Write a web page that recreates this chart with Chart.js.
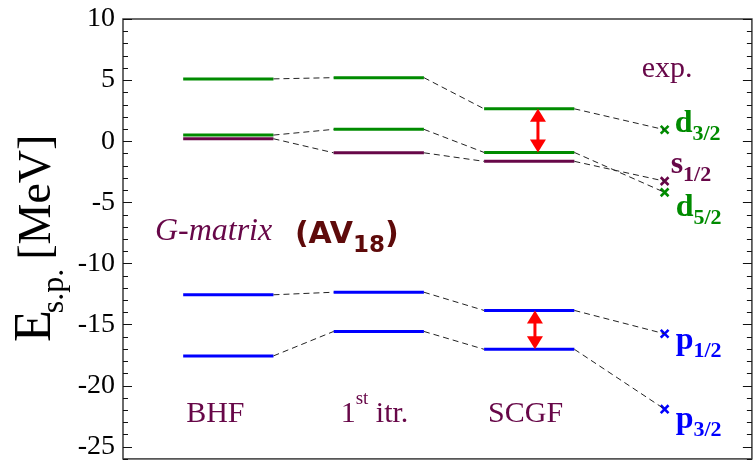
<!DOCTYPE html>
<html>
<head>
<meta charset="utf-8">
<script src="https://cdn.jsdelivr.net/npm/chart.js@4/dist/chart.umd.min.js"></script>
<style>
  html, body { margin: 0; padding: 0; overflow: hidden; background: #fff; }
  #wrap { width: 760px; height: 467px; }
</style>
</head>
<body>
<div id="wrap"><canvas id="c" width="760" height="467"></canvas></div>
<script>
// Single-particle energies (MeV) of the levels, one entry per orbit
const orbits      = ['d_{3/2}', 'd_{5/2}', 's_{1/2}', 'p_{1/2}', 'p_{3/2}'];
const bhf         = [5.10, 0.50, 0.20, -12.57, -17.57];
const firstItr    = [5.20, 0.97, -0.95, -12.36, -15.57];
const scgf        = [2.65, -0.92, -1.65, -13.85, -17.03];
const experiment  = [0.94, -4.19, -3.27, -15.76, -21.93];
const methods     = ['BHF', '1^{st} itr.', 'SCGF'];
const yTicks      = [10, 5, 0, -5, -10, -15, -20, -25];
// spin-orbit partners marked with a double arrow (indices into the orbit arrays)
const splitPairs  = [[0, 1], [3, 4]];

// ---- styling / placement ----
const GREEN = '#008b00', MAROON = '#670748', BLUE = '#0000ff', RED = '#ff0000';
const orbitColor = [GREEN, GREEN, MAROON, BLUE, BLUE];
const colStart = [0.7, 1.7, 2.7];
const colEnd   = [1.3, 2.3, 3.3];
const expX = 3.9;
const arrowX = [3.058, 3.038];
const orbitLabelOffset = [[10, 2], [11, 24], [6, -8], [11, 15], [11, 19]]; // px from marker
const methodLabelDx = [3, 7, 4];
const methodLabelY = -22.95;

const SERIF = '"Liberation Serif", "Times New Roman", serif';
const ROUND = '"DejaVu Sans", sans-serif';

const columns = [bhf, firstItr, scgf];
const datasets = [];

// dashed connectors between successive columns and to the experimental value
orbits.forEach((o, i) => {
  const seq = [
    [{x: colEnd[0], y: bhf[i]}, {x: colStart[1], y: firstItr[i]}],
    [{x: colEnd[1], y: firstItr[i]}, {x: colStart[2], y: scgf[i]}],
    [{x: colEnd[2], y: scgf[i]}, {x: expX, y: experiment[i]}]
  ];
  seq.forEach(d => datasets.push({
    type: 'line', data: d, borderColor: '#222', borderWidth: 1,
    borderDash: [6, 4], pointRadius: 0, showLine: true, fill: false
  }));
});

// level bars
columns.forEach((vals, c) => {
  vals.forEach((v, i) => datasets.push({
    type: 'line', data: [{x: colStart[c], y: v}, {x: colEnd[c], y: v}],
    borderColor: orbitColor[i], borderWidth: 3, pointRadius: 0,
    showLine: true, fill: false, borderCapStyle: 'butt'
  }));
});

// experimental values
datasets.push({
  type: 'scatter',
  data: experiment.map(v => ({x: expX, y: v})),
  pointStyle: 'crossRot', pointRadius: 5.5, pointBorderWidth: 2.6,
  pointBorderColor: orbitColor, pointBackgroundColor: orbitColor
});

// draw text with _{sub} and ^{sup} parts
function richText(ctx, str, x, y, font, smallFont, subDy, supDy) {
  const re = /(_\{[^}]*\}|\^\{[^}]*\})/;
  const parts = str.split(re).filter(p => p.length);
  let cx = x;
  parts.forEach(p => {
    let dy = 0, f = font, t = p;
    if (p.startsWith('_{')) { t = p.slice(2, -1); f = smallFont; dy = subDy; }
    else if (p.startsWith('^{')) { t = p.slice(2, -1); f = smallFont; dy = -supDy; }
    ctx.font = f;
    ctx.fillText(t, cx, y + dy);
    cx += ctx.measureText(t).width;
  });
  return cx;
}

const framePlugin = {
  id: 'frame',
  afterDraw(chart) {
    const {ctx, chartArea: a, scales: {y}} = chart;
    ctx.save();
    ctx.strokeStyle = '#3a3a3a';
    ctx.lineWidth = 1.5;
    ctx.strokeRect(a.left, a.top, a.right - a.left, a.bottom - a.top);
    ctx.strokeStyle = '#111';
    ctx.lineWidth = 1;
    for (let v = Math.ceil(y.min); v <= y.max; v++) {
      const py = Math.round(y.getPixelForValue(v)) + 0.5;
      const len = v % 5 === 0 ? 9 : 5;
      ctx.beginPath();
      ctx.moveTo(a.left, py); ctx.lineTo(a.left + len, py);
      ctx.moveTo(a.right, py); ctx.lineTo(a.right - len, py);
      ctx.stroke();
    }
    ctx.restore();
  }
};

const arrowPlugin = {
  id: 'arrows',
  afterDatasetsDraw(chart) {
    const {ctx, scales: {x, y}} = chart;
    ctx.save();
    ctx.fillStyle = RED; ctx.strokeStyle = RED; ctx.lineWidth = 3;
    splitPairs.forEach(([a, b], k) => {
      const px = x.getPixelForValue(arrowX[k]);
      const y1 = y.getPixelForValue(scgf[a]);
      const y2 = y.getPixelForValue(scgf[b]);
      const hw = 8, hl = 13;
      ctx.beginPath();
      ctx.moveTo(px, y1 + hl - 1); ctx.lineTo(px, y2 - hl + 1); ctx.stroke();
      ctx.beginPath();
      ctx.moveTo(px, y1); ctx.lineTo(px - hw, y1 + hl); ctx.lineTo(px + hw, y1 + hl); ctx.closePath(); ctx.fill();
      ctx.beginPath();
      ctx.moveTo(px, y2); ctx.lineTo(px - hw, y2 - hl); ctx.lineTo(px + hw, y2 - hl); ctx.closePath(); ctx.fill();
    });
    ctx.restore();
  }
};

const textPlugin = {
  id: 'texts',
  afterDraw(chart) {
    const {ctx, scales: {x, y}} = chart;
    ctx.save();
    ctx.textBaseline = 'alphabetic';
    ctx.textAlign = 'left';

    // method names under the columns
    ctx.fillStyle = MAROON;
    methods.forEach((m, c) => {
      richText(ctx, m, x.getPixelForValue(colStart[c]) + methodLabelDx[c], y.getPixelForValue(methodLabelY),
        `30px ${SERIF}`, `19px ${SERIF}`, 0, 18);
    });

    ctx.font = `30px ${SERIF}`;
    ctx.fillText('exp.', x.getPixelForValue(expX) - 23, y.getPixelForValue(5.23));

    // interaction label
    ctx.font = `italic 32px ${SERIF}`;
    const gx = x.getPixelForValue(0.512), gy = y.getPixelForValue(-8.12);
    ctx.fillText('G-matrix', gx, gy);
    ctx.fillStyle = '#5e0a0a';
    richText(ctx, '(AV_{18})', gx + 140, gy + 3,
      `bold 30px ${ROUND}`, `bold 23px ${ROUND}`, 9, 0);

    // orbit labels next to experimental points
    orbits.forEach((o, i) => {
      ctx.fillStyle = orbitColor[i];
      const px = x.getPixelForValue(expX) + orbitLabelOffset[i][0];
      const py = y.getPixelForValue(experiment[i]) + orbitLabelOffset[i][1];
      richText(ctx, o, px, py, `bold 32px ${SERIF}`, `bold 22px ${SERIF}`, 8, 0);
    });

    // y-axis title
    ctx.fillStyle = '#000';
    ctx.translate(50, 342);
    ctx.rotate(-Math.PI / 2);
    ctx.font = `52px ${SERIF}`;
    ctx.fillText('E', 0, 0);
    let w = ctx.measureText('E').width;
    ctx.font = `32px ${SERIF}`;
    ctx.fillText('s.p.', w - 3, 13);
    w += ctx.measureText('s.p.').width + 6;
    ctx.font = `46px ${SERIF}`;
    ctx.fillText('[MeV]', w, 0);
    ctx.restore();
  }
};

function build() {
  new Chart(document.getElementById('c'), {
    data: { datasets },
    options: {
      responsive: false,
      animation: false,
      devicePixelRatio: 1,
      layout: { padding: { top: 19, right: 5, bottom: 4, left: 0 } },
      plugins: { legend: { display: false }, tooltip: { enabled: false } },
      scales: {
        x: { type: 'linear', min: 0.3, max: 4.48, display: false },
        y: {
          type: 'linear', min: -26, max: 10,
          grid: { display: false, drawTicks: false },
          border: { display: false },
          afterBuildTicks: s => { s.ticks = yTicks.map(v => ({ value: v })); },
          afterFit: s => { s.width = 123; s.paddingTop = 0; s.paddingBottom = 0; },
          ticks: {
            color: '#000', padding: 8,
            font: { family: SERIF, size: 28 },
            callback: v => String(v)
          }
        }
      }
    },
    plugins: [framePlugin, arrowPlugin, textPlugin]
  });
}

// make sure the local faces are ready before the canvas text is drawn
const faces = [`30px ${SERIF}`, `italic 30px ${SERIF}`, `bold 30px ${SERIF}`, `bold 30px ${ROUND}`];
Promise.all(faces.map(f => document.fonts.load(f, 'BHF0123')))
  .then(build, build);
</script>
</body>
</html>
